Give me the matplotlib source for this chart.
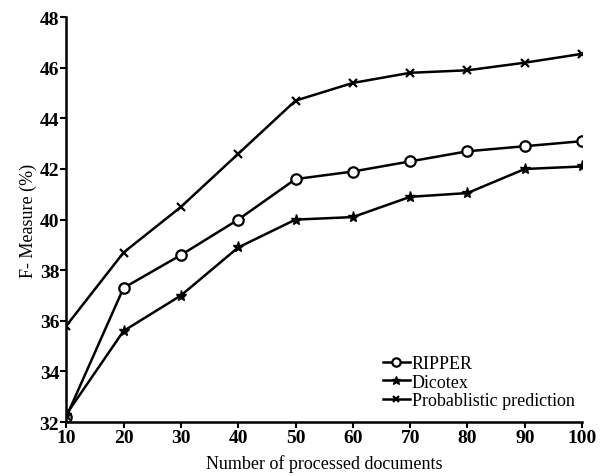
import matplotlib

matplotlib.use("Agg")
import matplotlib.pyplot as plt

docs = [10, 20, 30, 40, 50, 60, 70, 80, 90, 100]
ripper = [32.2, 37.3, 38.6, 40.0, 41.6, 41.9, 42.3, 42.7, 42.9, 43.1]
dicotex = [32.3, 35.6, 37.0, 38.9, 40.0, 40.1, 40.9, 41.05, 42.0, 42.1]
probablistic = [35.8, 38.7, 40.5, 42.6, 44.7, 45.4, 45.8, 45.9, 46.2, 46.55]

plt.rcParams["font.family"] = ["Liberation Serif", "DejaVu Serif"]

fig = plt.figure(figsize=(6.02, 4.77), dpi=100)
ax = fig.add_axes([0.11, 0.113, 0.857, 0.849])

ax.plot(docs, ripper, color="black", lw=1.8, marker="o", ms=7.5,
        mfc="white", mec="black", mew=1.6, label="RIPPER")
ax.plot(docs, dicotex, color="black", lw=1.8, marker="*", ms=8,
        mfc="black", mec="black", label="Dicotex")
ax.plot(docs, probablistic, color="black", lw=1.8, marker="x", ms=6,
        mew=1.6, label="Probablistic prediction")

ax.set_xlim(10, 100)
ax.set_ylim(32, 48)
ax.set_xticks(docs)
ax.set_yticks(range(32, 49, 2))
for side in ("top", "right"):
    ax.spines[side].set_visible(False)
for side in ("left", "bottom"):
    ax.spines[side].set_linewidth(1.8)
ax.tick_params(axis="both", width=1.5, length=4, labelsize=14, pad=1)
for lab in ax.get_xticklabels() + ax.get_yticklabels():
    lab.set_fontweight("semibold")

ax.set_xlabel("Number of processed documents", fontsize=13, labelpad=6)
ax.set_ylabel("F- Measure (%)", fontsize=13, labelpad=2)

ax.legend(loc="lower right", bbox_to_anchor=(1.01, 0.0), frameon=False,
          fontsize=13, handlelength=1.5, handletextpad=0.1,
          labelspacing=0.1, borderpad=0.2, markerscale=0.8)

fig.savefig("out.png", dpi=100)
